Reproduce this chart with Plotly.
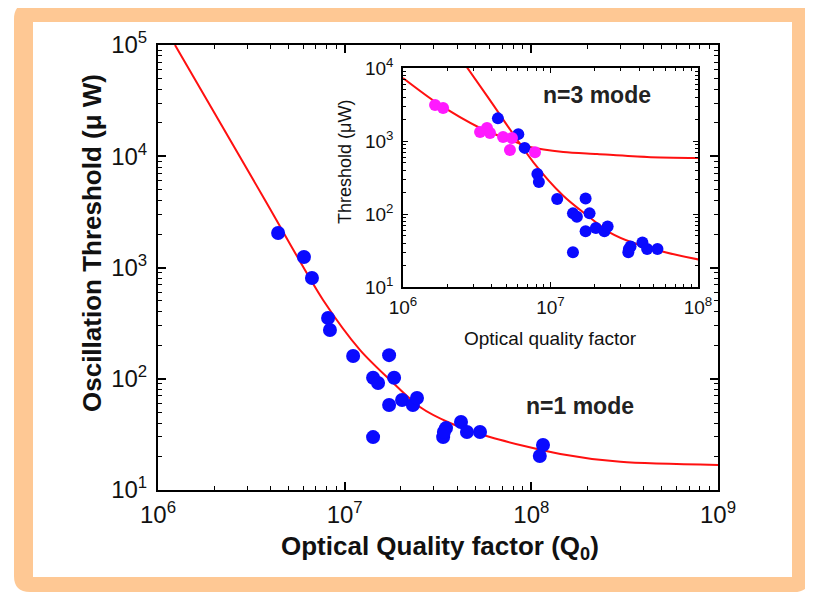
import plotly.graph_objects as go

# ---------------- data ----------------
# n=1 mode: measured thresholds (optical Q, threshold in microwatt)
n1_q = [4.4e6, 6.05e6, 6.68e6, 8.15e6, 8.34e6, 1.11e7, 1.73e7, 1.42e7, 1.51e7, 1.84e7,
        1.73e7, 2.03e7, 2.32e7, 2.44e7, 1.42e7, 3.49e7, 3.37e7, 3.40e7, 4.2e7, 4.52e7,
        5.31e7, 1.155e8, 1.11e8]
n1_t = [2042, 1242, 805, 352, 274, 160, 163, 102, 91.6, 102,
        58, 64.4, 58, 67.2, 29.9, 36, 29.9, 33.2, 40.8, 33.2,
        33.2, 25.4, 20.2]

# n=1 mode: fitted curve
fit1_q = [1.233e6, 3.74e6, 7.66e6, 1.21e7, 1.75e7, 2.53e7, 3.67e7, 6.0e7, 1.43e8, 3.0e8, 1.0e9]
fit1_t = [1.0e5, 4045, 511, 181, 97.5, 55.7, 40, 29.9, 21.1, 17.9, 16.8]

# n=3 mode: measured thresholds (inset)
n3_q = [1.65e6, 1.87e6, 3.33e6, 3.71e6, 3.89e6, 4.77e6, 5.48e6, 5.31e6, 7.85e6]
n3_t = [3110, 2830, 1327, 1507, 1290, 1135, 1099, 753, 700]

# n=3 mode: fitted curve (inset)
fit3_q = [1.0e6, 1.70e6, 3.33e6, 5.31e6, 7.26e6, 1.22e7, 2.07e7, 4.51e7, 1.0e8]
fit3_t = [7300, 3320, 1507, 1033, 828, 707, 663, 604, 585]

# tick labels
main_x_ticks = [1e6, 1e7, 1e8, 1e9]
main_x_labels = ["10<sup>6</sup>", "10<sup>7</sup>", "10<sup>8</sup>", "10<sup>9</sup>"]
main_y_ticks = [1e1, 1e2, 1e3, 1e4, 1e5]
main_y_labels = ["10<sup>1</sup>", "10<sup>2</sup>", "10<sup>3</sup>", "10<sup>4</sup>", "10<sup>5</sup>"]
inset_x_ticks = [1e6, 1e7, 1e8]
inset_x_labels = ["10<sup>6</sup>", "10<sup>7</sup>", "10<sup>8</sup>"]
inset_y_ticks = [1e1, 1e2, 1e3, 1e4]
inset_y_labels = ["10<sup>1</sup>", "10<sup>2</sup>", "10<sup>3</sup>", "10<sup>4</sup>"]

main_x_title = "Optical Quality factor (Q<sub>0</sub>)"
main_y_title = "Oscillation Threshold (\u03bc W)"
inset_x_title = "Optical quality factor"
inset_y_title = "Threshold (\u03bcW)"

# ---------------- geometry helpers ----------------
# the page has an 8px body margin, so the figure itself is 8px smaller
OFF = 8
W, H = 813 - OFF, 594 - OFF
L, R, T, B = 158, 718, 45, 490   # main plot area in reference pixels
PW, PH = R - L, B - T


def px(xp):
    return (xp - L) / PW


def py(yp):
    return (B - yp) / PH


def rounded_rect(x0, y0, x1, y1, r):
    pts = [
        ("M", (x0 + r, y0)), ("L", (x1 - r, y0)), ("Q", (x1, y0), (x1, y0 + r)),
        ("L", (x1, y1 - r)), ("Q", (x1, y1), (x1 - r, y1)), ("L", (x0 + r, y1)),
        ("Q", (x0, y1), (x0, y1 - r)), ("L", (x0, y0 + r)), ("Q", (x0, y0), (x0 + r, y0)),
    ]
    s = ""
    for p in pts:
        s += p[0] + " " + " ".join(f"{px(a):.5f},{py(b):.5f}" for a, b in p[1:]) + " "
    return s + "Z"


FONT = "Liberation Sans, Arial, Helvetica, sans-serif"
BLUE = "#0a0aff"
MAGENTA = "#ff1aff"
RED = "#ff1010"

fig = go.Figure()

# main figure
fig.add_trace(go.Scatter(x=fit1_q, y=fit1_t, mode="lines", line=dict(color=RED, width=2, shape="spline", smoothing=0.8),
                         xaxis="x", yaxis="y", showlegend=False, hoverinfo="skip"))
fig.add_trace(go.Scatter(x=n1_q, y=n1_t, mode="markers", marker=dict(color=BLUE, size=14, line=dict(width=0)),
                         xaxis="x", yaxis="y", showlegend=False))

# inset
fig.add_trace(go.Scatter(x=fit1_q, y=fit1_t, mode="lines", line=dict(color=RED, width=2, shape="spline", smoothing=0.8),
                         xaxis="x2", yaxis="y2", showlegend=False, hoverinfo="skip"))
fig.add_trace(go.Scatter(x=fit3_q, y=fit3_t, mode="lines", line=dict(color=RED, width=2, shape="spline", smoothing=0.8),
                         xaxis="x2", yaxis="y2", showlegend=False, hoverinfo="skip"))
fig.add_trace(go.Scatter(x=n1_q, y=n1_t, mode="markers", marker=dict(color=BLUE, size=12, line=dict(width=0)),
                         xaxis="x2", yaxis="y2", showlegend=False))
fig.add_trace(go.Scatter(x=n3_q, y=n3_t, mode="markers", marker=dict(color=MAGENTA, size=12, line=dict(width=0)),
                         xaxis="x2", yaxis="y2", showlegend=False))

main_axis = dict(type="log", tickmode="array",
                 showline=True, linecolor="black", linewidth=2, mirror="ticks",
                 ticks="inside", ticklen=8, tickwidth=1.5, tickcolor="black",
                 minor=dict(ticks="inside", ticklen=4, tickwidth=1, tickcolor="black", dtick="D1", showgrid=False),
                 showgrid=False, zeroline=False,
                 tickfont=dict(family=FONT, size=24, color="#111"))

inset_axis = dict(type="log", tickmode="array",
                  showline=True, linecolor="black", linewidth=1.5, mirror="ticks",
                  ticks="inside", ticklen=5, tickwidth=1, tickcolor="black",
                  minor=dict(ticks="inside", ticklen=3, tickwidth=1, tickcolor="black", dtick="D1", showgrid=False),
                  showgrid=False, zeroline=False,
                  tickfont=dict(family=FONT, size=19, color="#111"))

ix0, ix1, iy0, iy1 = 403, 698, 68, 287

fig.update_layout(
    width=W, height=H,
    margin=dict(l=L - OFF, r=W - (R - OFF), t=T - OFF, b=H - (B - OFF), pad=0),
    paper_bgcolor="white",
    plot_bgcolor="rgba(0,0,0,0)",
    xaxis=dict(main_axis, range=[6, 9], domain=[0, 1], anchor="y",
               tickvals=main_x_ticks, ticktext=main_x_labels, ticklabelstandoff=2),
    yaxis=dict(main_axis, range=[1, 5], domain=[0, 1], anchor="x",
               tickvals=main_y_ticks, ticktext=main_y_labels, ticklabelstandoff=4),
    xaxis2=dict(inset_axis, range=[6, 8], domain=[px(ix0), px(ix1)], anchor="y2",
                tickvals=inset_x_ticks, ticktext=inset_x_labels, ticklabelstandoff=2),
    yaxis2=dict(inset_axis, range=[1, 4], domain=[py(iy1), py(iy0)], anchor="x2",
                tickvals=inset_y_ticks, ticktext=inset_y_labels, ticklabelstandoff=4),
    shapes=[
        dict(type="path", xref="paper", yref="paper", path=rounded_rect(14, 3, 810, 592, 16),
             fillcolor="#fec894", line=dict(width=0), layer="below"),
        dict(type="rect", xref="paper", yref="paper", x0=px(33), x1=px(792), y0=py(577), y1=py(22),
             fillcolor="white", line=dict(width=0), layer="below"),
    ],
    annotations=[
        dict(text=main_x_title, xref="paper", yref="paper", x=px(440), y=py(547), showarrow=False,
             xanchor="center", yanchor="middle", font=dict(family=FONT, size=26, color="#111", weight="bold")),
        dict(text=main_y_title, xref="paper", yref="paper", x=px(92), y=py(243), showarrow=False, textangle=-90,
             xanchor="center", yanchor="middle", font=dict(family=FONT, size=26, color="#111", weight="bold")),
        dict(text=inset_x_title, xref="paper", yref="paper", x=px(550), y=py(338), showarrow=False,
             xanchor="center", yanchor="middle", font=dict(family=FONT, size=19, color="#111")),
        dict(text=inset_y_title, xref="paper", yref="paper", x=px(345), y=py(162), showarrow=False, textangle=-90,
             xanchor="center", yanchor="middle", font=dict(family=FONT, size=18, color="#111")),
        dict(text="n=1 mode", xref="paper", yref="paper", x=px(580), y=py(406), showarrow=False,
             xanchor="center", yanchor="middle", font=dict(family=FONT, size=23, color="#222", weight="bold")),
        dict(text="n=3 mode", xref="paper", yref="paper", x=px(597), y=py(95), showarrow=False,
             xanchor="center", yanchor="middle", font=dict(family=FONT, size=23, color="#222", weight="bold")),
    ],
)

fig.write_html("out.html")
